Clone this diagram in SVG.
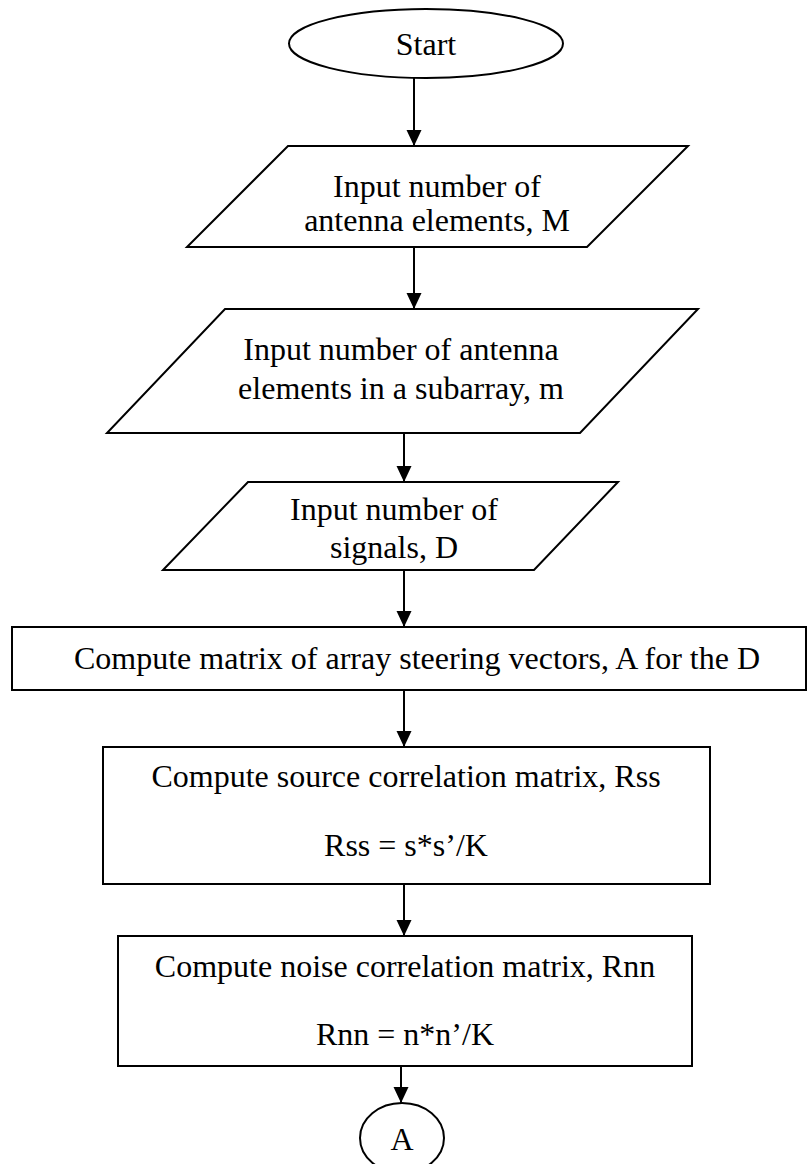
<svg xmlns="http://www.w3.org/2000/svg" width="809" height="1164" viewBox="0 0 809 1164">
<defs>
<style>
.s{fill:#fff;stroke:#000;stroke-width:2}
.t{font-family:"Liberation Serif","Times New Roman",serif;font-size:32px;fill:#000;text-anchor:middle}
.c{stroke:#000;stroke-width:2;fill:none}
</style>
<marker id="ah" markerUnits="userSpaceOnUse" markerWidth="16" markerHeight="16" refX="16" refY="7.5" orient="auto">
<path d="M0,0 L16,7.5 L0,15 z" fill="#000"/>
</marker>
</defs>
<rect width="809" height="1164" fill="#fff"/>
<g id="connectors">
<line class="c" x1="414" y1="78" x2="414" y2="146" marker-end="url(#ah)"/>
<line class="c" x1="414" y1="247" x2="414" y2="309" marker-end="url(#ah)"/>
<line class="c" x1="404" y1="433" x2="404" y2="482" marker-end="url(#ah)"/>
<line class="c" x1="404" y1="570" x2="404" y2="627" marker-end="url(#ah)"/>
<line class="c" x1="404" y1="690" x2="404" y2="747" marker-end="url(#ah)"/>
<line class="c" x1="404" y1="884" x2="404" y2="936" marker-end="url(#ah)"/>
<line class="c" x1="401" y1="1066" x2="401" y2="1103" marker-end="url(#ah)"/>
</g>
<g id="start">
<ellipse class="s" cx="426" cy="43.5" rx="137" ry="34.5"/>
<text class="t" x="426" y="55">Start</text>
</g>
<g id="input-M">
<polygon class="s" points="288,146 688,146 587,247 187,247"/>
<text class="t" x="437" y="197">Input number of</text>
<text class="t" x="437" y="231">antenna elements, M</text>
</g>
<g id="input-m">
<polygon class="s" points="225,309 698,309 580,433 107,433"/>
<text class="t" x="401" y="360">Input number of antenna</text>
<text class="t" x="401" y="399">elements in a subarray, m</text>
</g>
<g id="input-D">
<polygon class="s" points="248,482 618,482 534,570 163,570"/>
<text class="t" x="394" y="520">Input number of</text>
<text class="t" x="394" y="558">signals, D</text>
</g>
<g id="steering">
<rect class="s" x="12" y="627" width="794" height="63"/>
<text class="t" x="417" y="669">Compute matrix of array steering vectors, A for the D</text>
</g>
<g id="rss">
<rect class="s" x="103" y="747" width="607" height="137"/>
<text class="t" x="406" y="787">Compute source correlation matrix, Rss</text>
<text class="t" x="406" y="856">Rss = s*s’/K</text>
</g>
<g id="rnn">
<rect class="s" x="118" y="936" width="574" height="130"/>
<text class="t" x="405" y="977">Compute noise correlation matrix, Rnn</text>
<text class="t" x="405" y="1045">Rnn = n*n’/K</text>
</g>
<g id="connector-A">
<ellipse class="s" cx="402" cy="1138" rx="42" ry="35"/>
<text class="t" x="402" y="1150">A</text>
</g>
</svg>
